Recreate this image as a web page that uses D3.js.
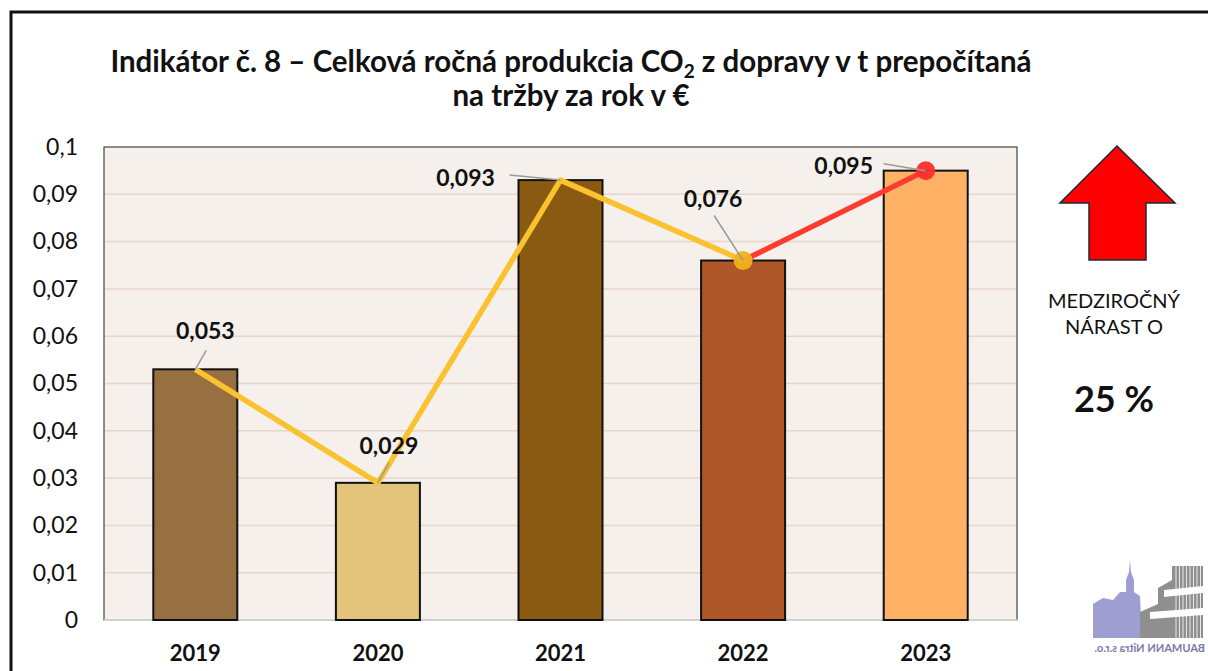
<!DOCTYPE html>
<html><head><meta charset="utf-8">
<script src="https://cdn.jsdelivr.net/npm/d3@7"></script>
<style>body{margin:0;background:#fff}svg{display:block}</style>
</head><body>
<svg id="c" width="1208" height="671"></svg>
<script>
const years = ["2019","2020","2021","2022","2023"];
const values = [0.053, 0.029, 0.093, 0.076, 0.095];
const barColors = ["#976F41","#E4C47A","#8B5A12","#B0572A","#FFB266"];
const yTicks = [0,0.01,0.02,0.03,0.04,0.05,0.06,0.07,0.08,0.09,0.1];
const titleLines = ["Indikátor č. 8 – Celková ročná produkcia CO", "na tržby za rok v €"];
const sideText = ["MEDZIROČNÝ","NÁRAST O"];
const growth = "25 %";

const svg = d3.select("#c");
const font = "Lato,'Open Sans',sans-serif";

// outer frame
svg.append("path").attr("d","M11,671 V12 H1208").attr("fill","none").attr("stroke","#111").attr("stroke-width",3);

const m = {l:104, r:1017, t:147, b:620};
const x = d3.scaleBand().domain(years).range([m.l,m.r]).paddingInner(0.54).paddingOuter(0.27);
const y = d3.scaleLinear().domain([0,0.1]).range([m.b,m.t]);
const cx = i=>x(years[i])+x.bandwidth()/2;

// label placement relative to data point (dx, baseline dy) and leader line start (relative)
const labelOffsets = [[10,-30],[11,-29],[-95,6],[-30,-54],[-82,3]];
const leaderFrom = [[11,-19],[11,-20],[-51,-5],[-29,-45],[-42,-7]];

// plot bg
svg.append("rect").attr("x",m.l).attr("y",m.t).attr("width",m.r-m.l).attr("height",m.b-m.t)
  .attr("fill","#F5F0EC").attr("stroke","#444").attr("stroke-width",1.2);

// grid
svg.append("g").selectAll("line").data(yTicks.filter(d=>d>0&&d<0.1)).join("line")
  .attr("x1",m.l+1).attr("x2",m.r-1).attr("y1",d=>y(d)).attr("y2",d=>y(d))
  .attr("stroke","#E8D5C8").attr("stroke-width",1.5);
svg.append("line").attr("x1",m.l).attr("x2",m.r).attr("y1",y(0)).attr("y2",y(0)).attr("stroke","#d0d0d0").attr("stroke-width",2);

// y axis labels
const yAxis = d3.axisLeft(y).tickValues(yTicks).tickSize(0).tickPadding(26)
  .tickFormat(d=>String(+d.toFixed(2)).replace(".",","));
const ya = svg.append("g").attr("transform",`translate(${m.l},0)`).call(yAxis);
ya.select(".domain").remove();
ya.selectAll("text").attr("font-family",font).attr("font-size",23).attr("fill","#111");

// x axis labels
const xAxis = d3.axisBottom(x).tickSize(0).tickPadding(25);
const xa = svg.append("g").attr("transform",`translate(0,${m.b})`).call(xAxis);
xa.select(".domain").remove();
xa.selectAll("text").attr("font-family",font).attr("font-size",22).attr("font-weight","bold").attr("fill","#111");

// bars
svg.append("g").selectAll("rect").data(values).join("rect")
  .attr("x",(d,i)=>x(years[i])).attr("width",x.bandwidth())
  .attr("y",d=>y(d)).attr("height",d=>y(0)-y(d))
  .attr("fill",(d,i)=>barColors[i]).attr("stroke","#111").attr("stroke-width",2);

// line
const line = d3.line().x(d=>cx(d.i)).y(d=>y(d.v));
const pts = values.map((v,i)=>({v,i}));
svg.append("path").attr("d",line(pts.slice(0,4))).attr("fill","none").attr("stroke","#F9C22E").attr("stroke-width",5.5).attr("stroke-linejoin","round");
svg.append("path").attr("d",line(pts.slice(3,5))).attr("fill","none").attr("stroke","#FF3B30").attr("stroke-width",5.5);
svg.append("circle").attr("cx",cx(3)).attr("cy",y(values[3])).attr("r",9.5).attr("fill","#F2B21C").attr("opacity",0.95);
svg.append("circle").attr("cx",cx(4)).attr("cy",y(values[4])).attr("r",9.5).attr("fill","#FF2D2D").attr("opacity",0.95);

// leader lines
svg.append("g").selectAll("line").data(values).join("line")
  .attr("x1",(d,i)=>cx(i)+leaderFrom[i][0]).attr("y1",(d,i)=>y(d)+leaderFrom[i][1])
  .attr("x2",(d,i)=>cx(i)).attr("y2",d=>y(d))
  .attr("stroke","#9a9a9a").attr("stroke-width",1.5);

// data labels
svg.append("g").selectAll("text").data(values).join("text")
  .attr("x",(d,i)=>cx(i)+labelOffsets[i][0]).attr("y",(d,i)=>y(d)+labelOffsets[i][1])
  .attr("text-anchor","middle").attr("font-family",font).attr("font-size",23).attr("font-weight","bold").attr("fill","#111")
  .text(d=>String(d).replace(".",","));

// title
const t1 = svg.append("text").attr("x",571).attr("y",72).attr("text-anchor","middle")
  .attr("font-family",font).attr("font-size",29.5).attr("font-weight","bold").attr("fill","#111");
t1.append("tspan").text(titleLines[0]);
t1.append("tspan").attr("font-size",19).attr("dy",6).text("2");
t1.append("tspan").attr("dy",-6).text("\u00a0z dopravy v t prepočítaná");
svg.append("text").attr("x",571).attr("y",106).attr("text-anchor","middle")
  .attr("font-family",font).attr("font-size",29.5).attr("font-weight","bold").attr("fill","#111").text(titleLines[1]);

// arrow
svg.append("path").attr("d","M1117,146 L1175,203 L1146,203 L1146,260 L1089,260 L1089,203 L1060,203 Z")
  .attr("fill","#FF0000").attr("stroke","#1c2a3a").attr("stroke-width",1.5);
svg.append("g").selectAll("text").data(sideText).join("text")
  .attr("x",1114).attr("y",(d,i)=>308+i*26).attr("text-anchor","middle")
  .attr("font-family",font).attr("font-size",20).attr("fill","#111").text(d=>d);
svg.append("text").attr("x",1114).attr("y",412).attr("text-anchor","middle")
  .attr("font-family",font).attr("font-size",36).attr("font-weight","bold").attr("fill","#111").text(growth);

// logo (decorative)
const lg = svg.append("g").attr("opacity",0.85);
lg.append("path").attr("d","M1093,638 L1093,604 L1103,598 L1113,600 L1120,592 L1126,592 L1126,580 L1129,572 L1130,560 L1131,572 L1134,580 L1134,592 L1140,596 L1142,638 Z").attr("fill","#8E8EC8");
lg.append("path").attr("d","M1140,638 L1140,612 L1158,604 L1158,588 L1172,580 L1172,566 L1203,566 L1203,638 Z").attr("fill","#7c7c7c");
[[1150,612,1203],[1164,590,1203]].forEach(r=>{
  lg.append("path").attr("d",`M${r[0]},${r[1]} L${r[2]},${r[1]-4} L${r[2]},${r[1]+3} L${r[0]},${r[1]+7} Z`).attr("fill","#fff");
});
for(let k=0;k<8;k++){ lg.append("line").attr("x1",1176+k*3.5).attr("x2",1176+k*3.5).attr("y1",566).attr("y2",638).attr("stroke","#fff").attr("stroke-width",0.8); }
svg.append("text").attr("transform","translate(1205,652) scale(-1,1)").attr("font-family",font)
  .attr("font-size",11).attr("font-weight","bold").attr("fill","#7a7aa8").text("BAUMANN Nitra s.r.o.");
</script>
</body></html>
